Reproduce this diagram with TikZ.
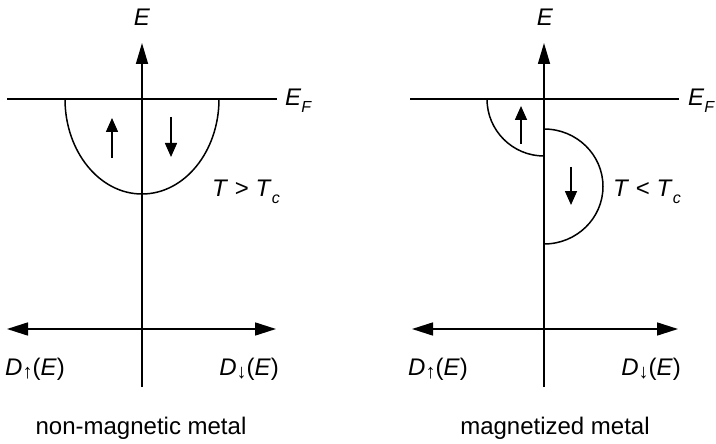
\documentclass[tikz,border=0pt]{standalone}
\usepackage{fontspec}
\setmainfont{Liberation Sans}
\usetikzlibrary{arrows.meta,positioning}

\newcommand{\lowidx}[1]{\raisebox{-0.28em}{\fontsize{16}{16}\selectfont #1}}
\newcommand{\spinidx}[1]{\raisebox{-3.5pt}{\fontsize{20}{20}\selectfont #1}}

\tikzset{
  axis/.style={line width=1.6pt, -{Triangle[length=21pt,width=12pt]}},
  daxis/.style={line width=1.6pt, {Triangle[length=21pt,width=13pt]}-{Triangle[length=21pt,width=13pt]}},
  spin/.style={line width=1.6pt, -{Triangle[length=14pt,width=12pt]}},
  band/.style={line width=1.5pt},
  lbl/.style={font=\fontsize{24}{28}\selectfont, inner sep=0pt},
  caption/.style={font=\fontsize{24}{28}\selectfont, inner sep=0pt}
}

\begin{document}
\begin{tikzpicture}[x=1pt,y=1pt]
    \useasboundingbox (0,0) rectangle (716,-444);

    % non-magnetic metal
    \coordinate (la-bot) at (142,-387);
    \coordinate (la-top) at (142,-43);
    \coordinate (lf-l) at (7,-99);
    \coordinate (lf-r) at (277,-99);
    \coordinate (ld-l) at (7,-329);
    \coordinate (ld-r) at (276,-329);
    \coordinate (lu-a) at (112,-158);
    \coordinate (lu-b) at (112,-118);
    \coordinate (ldn-a) at (171,-117);
    \coordinate (ldn-b) at (171,-157);

    \draw[axis] (la-bot) -- (la-top);
    \draw[band] (lf-l) -- (lf-r);
    \draw[daxis] (ld-l) -- (ld-r);
    \draw[band] (65,-99) arc[start angle=180, end angle=360, x radius=77, y radius=95];
    \draw[spin] (lu-a) -- (lu-b);
    \draw[spin] (ldn-a) -- (ldn-b);

    \node[lbl] (lE) at (142,-17) {\textit{E}};
    \node[lbl, anchor=west] (lEF) at (285,-101) {\textit{E}\lowidx{\textit{F}}};
    \node[lbl] (lT) at (246,-192) {\textit{T} > \textit{T}\lowidx{\textit{c}}};
    \node[lbl, anchor=base west] (lDup) at (5,-375) {\textit{D}\spinidx{↑}(\textit{E})};
    \node[lbl, anchor=base east] (lDdn) at (279,-375) {\textit{D}\spinidx{↓}(\textit{E})};
    \node[caption] (lcap) at (141,-428) {non-magnetic metal};

    % magnetized metal
    \coordinate (ra-bot) at (544,-387);
    \coordinate (ra-top) at (544,-43);
    \coordinate (rf-l) at (410,-99);
    \coordinate (rf-r) at (679,-99);
    \coordinate (rd-l) at (412,-329);
    \coordinate (rd-r) at (678,-329);
    \coordinate (ru-a) at (521,-144);
    \coordinate (ru-b) at (521,-106);
    \coordinate (rdn-a) at (571,-167);
    \coordinate (rdn-b) at (571,-205);

    \draw[axis] (ra-bot) -- (ra-top);
    \draw[band] (rf-l) -- (rf-r);
    \draw[daxis] (rd-l) -- (rd-r);
    \draw[band] (487,-99) arc[start angle=180, end angle=270, radius=57];
    \draw[band] (544,-129) arc[start angle=90, end angle=-90, x radius=59, y radius=57.5];
    \draw[spin] (ru-a) -- (ru-b);
    \draw[spin] (rdn-a) -- (rdn-b);

    \node[lbl] (rE) at (545,-17) {\textit{E}};
    \node[lbl, anchor=west] (rEF) at (688,-101) {\textit{E}\lowidx{\textit{F}}};
    \node[lbl] (rT) at (647,-192) {\textit{T} < \textit{T}\lowidx{\textit{c}}};
    \node[lbl, anchor=base west] (rDup) at (408,-375) {\textit{D}\spinidx{↑}(\textit{E})};
    \node[lbl, anchor=base east] (rDdn) at (681,-375) {\textit{D}\spinidx{↓}(\textit{E})};
    \node[caption] (rcap) at (555,-428) {magnetized metal};
\end{tikzpicture}
\end{document}
